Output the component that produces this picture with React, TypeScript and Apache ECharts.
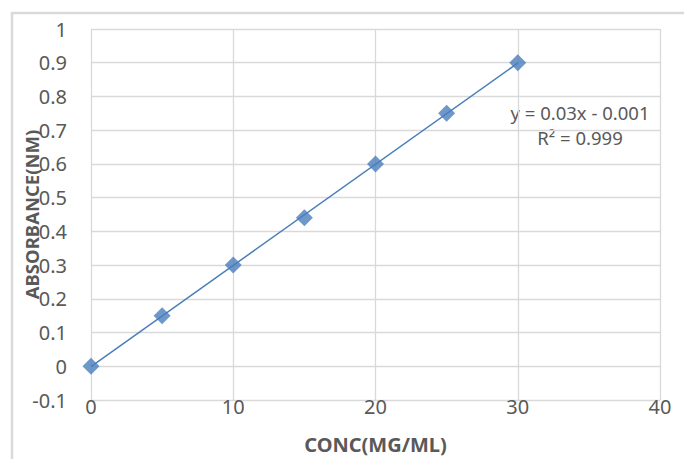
import React, { useEffect, useRef } from "react";
import * as echarts from "echarts";

const concentrations = [0, 5, 10, 15, 20, 25, 30];
const absorbances = [0, 0.15, 0.3, 0.44, 0.6, 0.75, 0.9];
const trendSlope = 0.03;
const trendIntercept = -0.001;
const equationLines = ["y = 0.03x - 0.001", "R² = 0.999"];
const xTitle = "CONC(MG/ML)";
const yTitle = "ABSORBANCE(NM)";

export default function App() {
  const ref = useRef<HTMLDivElement>(null);
  useEffect(() => {
    if (!ref.current) return;
    const chart = echarts.init(ref.current, null, { renderer: "svg" });
    const font = "'Noto Sans', 'Open Sans', sans-serif";
    const xMin = Math.min(...concentrations);
    const xMax = Math.max(...concentrations);
    const trend = [xMin, xMax].map((x) => [x, trendSlope * x + trendIntercept]);
    chart.setOption({
      animation: false,
      backgroundColor: "#ffffff",
      grid: { left: 91, right: 24, top: 29, bottom: 54, containLabel: false },
      xAxis: {
        type: "value",
        min: 0,
        max: 40,
        interval: 10,
        name: xTitle,
        nameLocation: "middle",
        nameGap: 34,
        nameMoveOverlap: false,
        nameTextStyle: { fontSize: 20, fontWeight: "bold", color: "#595959", fontFamily: font, verticalAlign: "top" },
        axisLine: { show: false },
        axisTick: { show: false },
        axisLabel: { fontSize: 20, color: "#595959", fontFamily: font, margin: 6, verticalAlign: "middle" },
        splitLine: { show: true, lineStyle: { color: "#d9d9d9", width: 1.3 } },
      },
      yAxis: {
        type: "value",
        min: -0.1,
        max: 1,
        interval: 0.1,
        name: yTitle,
        nameLocation: "middle",
        nameGap: 50,
        nameMoveOverlap: false,
        nameTextStyle: { fontSize: 18.5, fontWeight: "bold", color: "#595959", fontFamily: font },
        axisLine: { show: false },
        axisTick: { show: false },
        axisLabel: {
          fontSize: 20,
          color: "#595959",
          fontFamily: font,
          margin: 24,
          formatter: (v: number) => String(Math.round(v * 10) / 10),
        },
        splitLine: { show: true, lineStyle: { color: "#d9d9d9", width: 1.3 } },
      },
      series: [
        {
          type: "line",
          data: trend,
          symbol: "none",
          lineStyle: { color: "#4A7EBB", width: 1.5 },
          z: 2,
        },
        {
          type: "scatter",
          data: concentrations.map((c, i) => [c, absorbances[i]]),
          symbol: "diamond",
          symbolSize: 17,
          itemStyle: { color: "#4A7EBB" },
          z: 3,
        },
      ],
      graphic: [
        {
          type: "rect",
          silent: true,
          z: -10,
          shape: { x: 12, y: 13, width: 800, height: 600 },
          style: { fill: "none", stroke: "#d9d9d9", lineWidth: 2.5 },
        },
        {
          type: "text",
          x: 580,
          y: 112,
          style: {
            text: equationLines[0],
            fontSize: 18.5,
            fontFamily: font,
            fill: "#595959",
            textAlign: "center",
            textVerticalAlign: "middle",
          },
        },
        {
          type: "text",
          x: 580,
          y: 137,
          style: {
            text: equationLines[1],
            fontSize: 18.5,
            fontFamily: font,
            fill: "#595959",
            textAlign: "center",
            textVerticalAlign: "middle",
          },
        },
      ],
    });
    return () => chart.dispose();
  }, []);
  return (
    <div
      ref={ref}
      style={{ position: "absolute", left: 0, top: 0, width: 684, height: 459, background: "#fff" }}
    />
  );
}
